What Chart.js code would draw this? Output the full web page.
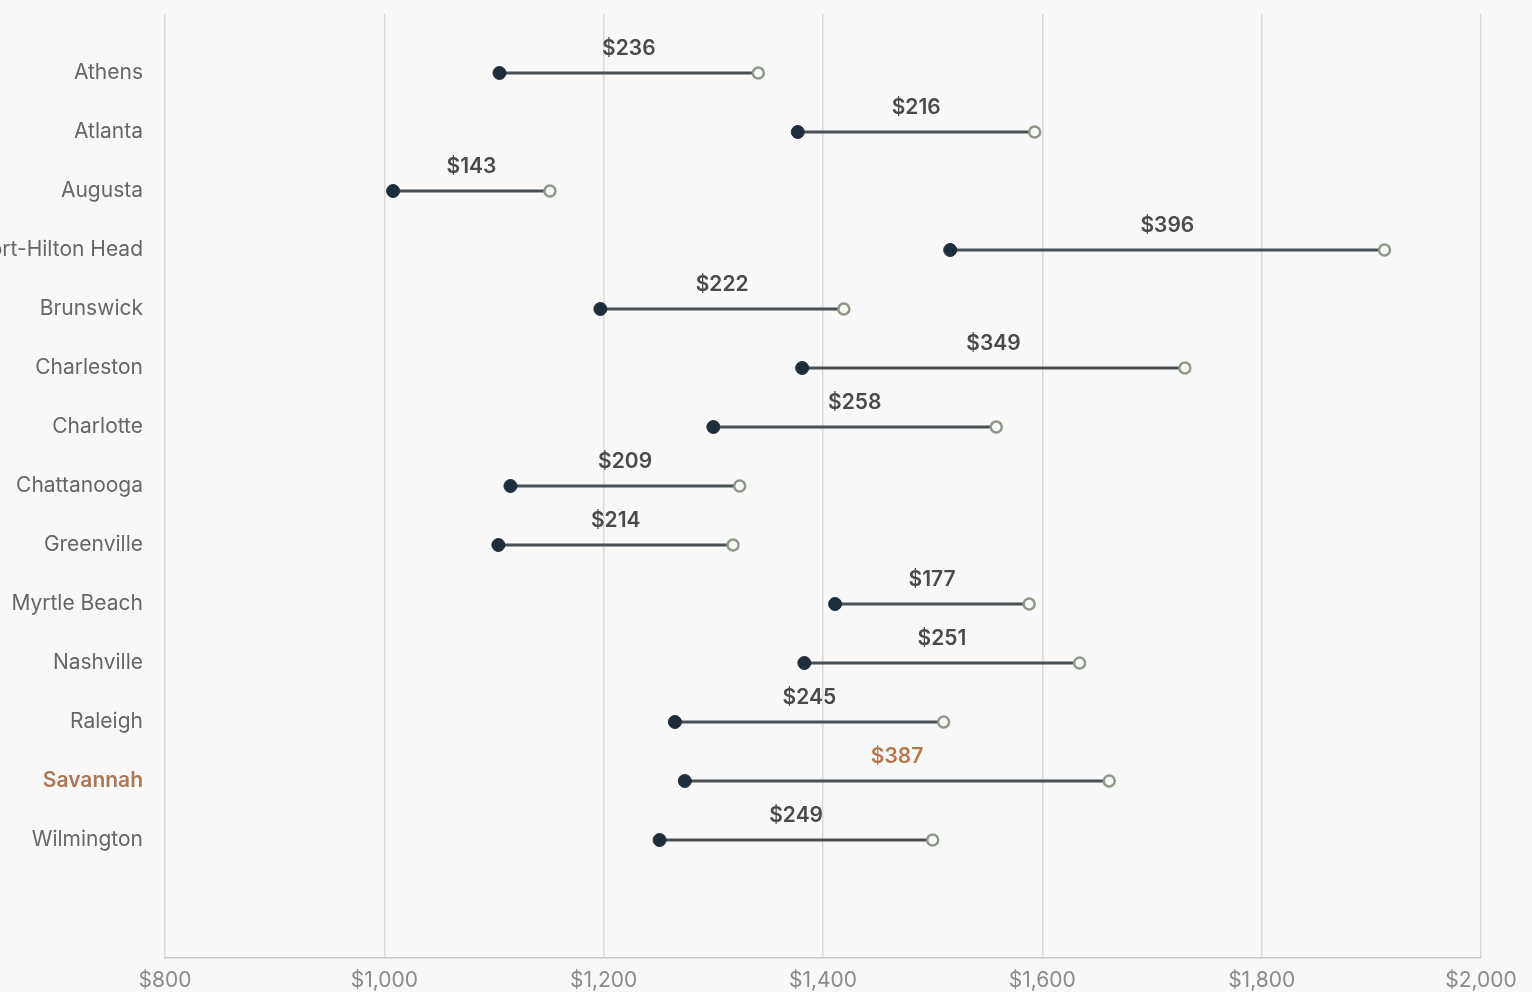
<!DOCTYPE html>
<html>
<head>
<meta charset="utf-8">
<script src="https://cdn.jsdelivr.net/npm/chart.js@4.4.1/dist/chart.umd.min.js"></script>
<style>
  html, body { margin: 0; padding: 0; background: #f8f8f8; }
  #wrap { width: 1532px; height: 992px; position: relative; }
</style>
</head>
<body>
<div id="wrap"><canvas id="c" width="1532" height="992"></canvas></div>
<script>
const cities = ['Athens', 'Atlanta', 'Augusta', 'Beaufort-Hilton Head', 'Brunswick', 'Charleston',
  'Charlotte', 'Chattanooga', 'Greenville', 'Myrtle Beach', 'Nashville', 'Raleigh', 'Savannah', 'Wilmington'];
const startValues = [1105, 1377, 1008, 1516, 1197, 1381, 1300, 1115, 1104, 1411, 1383, 1265, 1274, 1251];
const endValues   = [1341, 1593, 1151, 1912, 1419, 1730, 1558, 1324, 1318, 1588, 1634, 1510, 1661, 1500];
const gapLabels   = ['$236', '$216', '$143', '$396', '$222', '$349', '$258', '$209', '$214', '$177', '$251', '$245', '$387', '$249'];
const xTicks = [800, 1000, 1200, 1400, 1600, 1800, 2000];
const highlightCity = 'Savannah';

const FONT = 'Inter, "Open Sans", sans-serif';
const hi = cities.indexOf(highlightCity);

const datasets = [];
datasets.push({
  label: 'start',
  data: cities.map((c, i) => ({ x: startValues[i], y: i })),
  pointRadius: 6.5, pointHoverRadius: 6.5,
  pointBackgroundColor: '#1f2c3a', pointBorderColor: '#1f2c3a', pointBorderWidth: 1,
  showLine: false, order: 0
});
datasets.push({
  label: 'end',
  data: cities.map((c, i) => ({ x: endValues[i], y: i })),
  pointRadius: 5.5, pointHoverRadius: 5.5,
  pointBackgroundColor: '#f8f8f6', pointBorderColor: '#8d9a89', pointBorderWidth: 2.5,
  showLine: false, order: 0
});
cities.forEach((c, i) => {
  datasets.push({
    label: c,
    data: [{ x: startValues[i], y: i }, { x: endValues[i], y: i }],
    showLine: true, borderColor: '#4b5054', borderWidth: 3,
    pointRadius: 0, order: 1
  });
});

const gapLabelPlugin = {
  id: 'gapLabels',
  afterDatasetsDraw(chart) {
    const { ctx, scales: { x, y } } = chart;
    ctx.save();
    ctx.font = '600 21px ' + FONT;
    ctx.textAlign = 'center';
    ctx.textBaseline = 'middle';
    cities.forEach((c, i) => {
      const px = (x.getPixelForValue(startValues[i]) + x.getPixelForValue(endValues[i])) / 2;
      const py = y.getPixelForValue(i) - 24;
      ctx.fillStyle = i === hi ? '#b8774f' : '#4a4a4a';
      ctx.fillText(gapLabels[i], px, py);
    });
    ctx.restore();
  }
};

new Chart(document.getElementById('c'), {
  type: 'scatter',
  data: { datasets },
  options: {
    responsive: false,
    animation: false,
    layout: { padding: { top: 14, right: 51, bottom: 0, left: 0 } },
    plugins: { legend: { display: false }, tooltip: { enabled: false } },
    scales: {
      x: {
        type: 'linear', min: 800, max: 2000,
        afterBuildTicks: s => { s.ticks = xTicks.map(v => ({ value: v })); },
        afterFit: s => { s.height = 34; s.paddingLeft = 0; s.paddingRight = 0; },
        ticks: {
          callback: v => '$' + v.toLocaleString('en-US'),
          color: '#8a8a8a', font: { family: FONT, size: 21 }, padding: 10, maxRotation: 0
        },
        grid: { color: '#d9d9d9', lineWidth: 1.5, drawTicks: false },
        border: { color: '#c8c8c8', width: 1.5 }
      },
      y: {
        type: 'linear', min: -1, max: 15, reverse: true,
        afterBuildTicks: s => { s.ticks = cities.map((c, i) => ({ value: i })); },
        afterFit: s => { s.width = 165; s.paddingTop = 0; s.paddingBottom = 0; },
        ticks: {
          callback: v => cities[v],
          color: ctx => ctx.tick && ctx.tick.value === hi ? '#a9785a' : '#666666',
          font: ctx => ({ family: FONT, size: 21, weight: ctx.tick && ctx.tick.value === hi ? '600' : '400' }),
          padding: 22
        },
        grid: { display: false, drawTicks: false },
        border: { display: false }
      }
    }
  },
  plugins: [gapLabelPlugin]
});
</script>
</body>
</html>
